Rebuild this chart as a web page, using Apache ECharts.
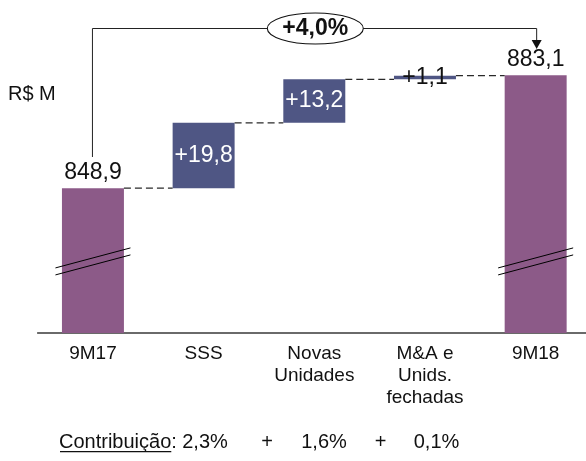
<!DOCTYPE html>
<html>
<head>
<meta charset="utf-8">
<script src="https://cdn.jsdelivr.net/npm/echarts@6/dist/echarts.min.js"></script>
<style>
  html, body { margin: 0; padding: 0; background: #fff; }
  #chart { width: 586px; height: 461px; }
</style>
</head>
<body>
<div id="chart"></div>
<script>
// Receita: ponte 9M17 -> 9M18 (R$ milhões)
const categories = ['9M17', 'SSS', 'Novas\nUnidades', 'M&A e\nUnids.\nfechadas', '9M18'];
const totals = [848.9, null, null, null, 883.1];
const deltas = [null, 19.8, 13.2, 1.1, null];
const contribLabels = ['2,3%', '1,6%', '0,1%'];
const growthLabel = '+4,0%';
const unitLabel = 'R$ M';
const contribTitle = 'Contribuição';

const FONT = '"Liberation Sans", Arial, sans-serif';
const PURPLE = '#8c5a88';
const BLUE = '#4f5684';
const INK = '#111';
const BAR_RATIO = 0.56;
const Y_MIN = 805, Y_MAX = 892;
const BREAK_AT = 826.7; // value level where the axis-break marks sit on the total bars

const fmt = v => v.toFixed(1).replace('.', ',');

// transparent base + visible segment, and the running level after each bar
const baseData = [];
const barData = [];
const levels = [];
let running = 0;
categories.forEach((c, i) => {
  if (totals[i] != null) {
    baseData.push(0);
    running = totals[i];
    barData.push({
      value: totals[i],
      itemStyle: { color: PURPLE },
      label: { position: 'top', distance: 4, color: INK, formatter: fmt(totals[i]) }
    });
  } else {
    baseData.push(running);
    running += deltas[i];
    barData.push({
      value: deltas[i],
      itemStyle: { color: BLUE },
      label: {
        position: 'inside',
        color: deltas[i] < 3 ? INK : '#fff',
        formatter: '+' + fmt(deltas[i])
      }
    });
  }
  levels.push(running);
});

const connectorData = levels.slice(0, -1).map((lv, i) => [i, lv]);
const breakData = categories.map((c, i) => i).filter(i => totals[i] != null).map(i => [i, BREAK_AT]);

const chart = echarts.init(document.getElementById('chart'), null, { renderer: 'canvas' });

const option = {
  animation: false,
  backgroundColor: '#fff',
  textStyle: { fontFamily: FONT },
  grid: {
    left: 37.6, width: 553.4, top: 46, bottom: 128,
    containLabel: false, outerBoundsMode: 'none'
  },
  xAxis: {
    type: 'category',
    data: categories,
    axisLine: { onZero: false, lineStyle: { color: '#3a3a3a', width: 1.5 } },
    axisTick: { show: false },
    splitLine: { show: false },
    axisLabel: {
      interval: 0, margin: 10, color: INK, fontSize: 19, lineHeight: 22,
      fontFamily: FONT, verticalAlign: 'top'
    }
  },
  yAxis: {
    type: 'value', min: Y_MIN, max: Y_MAX, show: false,
    splitLine: { show: false }
  },
  series: [
    {
      name: 'base', type: 'bar', stack: 'ponte', silent: true,
      barWidth: (BAR_RATIO * 100) + '%',
      itemStyle: { color: 'transparent' },
      data: baseData
    },
    {
      name: 'valor', type: 'bar', stack: 'ponte',
      barWidth: (BAR_RATIO * 100) + '%',
      label: { show: true, fontSize: 23, fontFamily: FONT },
      data: barData,
      z: 3
    },
    {
      // dashed connectors between consecutive bar tops
      name: 'conectores', type: 'custom', silent: true, z: 4,
      data: connectorData,
      renderItem: (params, api) => {
        const p = api.coord([api.value(0), api.value(1)]);
        const band = api.size([1, 0])[0];
        const half = band * BAR_RATIO / 2;
        return {
          type: 'line',
          shape: { x1: p[0] + half, y1: p[1], x2: p[0] + band - half, y2: p[1] },
          style: { stroke: '#2a2a2a', lineWidth: 1.3, lineDash: [7, 4] }
        };
      }
    },
    {
      // axis-break marks drawn across the total bars
      name: 'quebra', type: 'custom', silent: true, z: 5,
      data: breakData,
      renderItem: (params, api) => {
        const p = api.coord([api.value(0), api.value(1)]);
        const dx = 37.5, dy = 10, gap = 3.5;
        const mk = off => ({
          type: 'line',
          shape: { x1: p[0] - dx, y1: p[1] + dy + off, x2: p[0] + dx, y2: p[1] - dy + off },
          style: { stroke: '#000', lineWidth: 1 }
        });
        return { type: 'group', children: [mk(-gap), mk(gap)] };
      }
    }
  ]
};

chart.setOption(option);

// annotations positioned from the category axis
const xFirst = chart.convertToPixel({ xAxisIndex: 0 }, categories[0]);
const xLast = chart.convertToPixel({ xAxisIndex: 0 }, categories[categories.length - 1]);
const xMid = chart.convertToPixel({ xAxisIndex: 0 }, categories[2]);
const bracketY = 28.5;

const ctx = document.createElement('canvas').getContext('2d');
ctx.font = '20px ' + FONT;
const titleW = ctx.measureText(contribTitle).width;
const rowY = 442;
const titleX = 59;

const rowText = (text, x, align) => ({
  type: 'text', z: 12, silent: true, x: x, y: rowY,
  style: { text: text, fill: INK, font: '20px ' + FONT, align: align || 'center', verticalAlign: 'middle' }
});

chart.setOption({
  graphic: [
    {
      type: 'polyline', z: 10, silent: true,
      shape: { points: [[xFirst - 0.5, 157], [xFirst - 0.5, bracketY], [xLast + 1, bracketY], [xLast + 1, 41]] },
      style: { stroke: '#222', lineWidth: 1, fill: null }
    },
    {
      type: 'polygon', z: 10, silent: true,
      shape: { points: [[xLast - 4, 40], [xLast + 6, 40], [xLast + 1, 49]] },
      style: { fill: '#111' }
    },
    {
      type: 'ellipse', z: 11, silent: true,
      shape: { cx: xMid + 1, cy: bracketY, rx: 48, ry: 15.5 },
      style: { fill: '#fff', stroke: '#111', lineWidth: 1.1 }
    },
    {
      type: 'text', z: 12, silent: true, x: xMid + 1, y: bracketY,
      style: { text: growthLabel, fill: INK, font: 'bold 23px ' + FONT, align: 'center', verticalAlign: 'middle' }
    },
    {
      type: 'text', z: 12, silent: true, x: 8, y: 94.5,
      style: { text: unitLabel, fill: INK, font: '20px ' + FONT, align: 'left', verticalAlign: 'middle' }
    },
    rowText(contribTitle + ':', titleX, 'left'),
    {
      type: 'rect', z: 12, silent: true,
      shape: { x: titleX + 1, y: 451, width: titleW - 1, height: 1.3 },
      style: { fill: INK }
    },
    rowText(contribLabels[0], 205),
    rowText('+', 267),
    rowText(contribLabels[1], 324),
    rowText('+', 380.5),
    rowText(contribLabels[2], 436.5)
  ]
});
</script>
</body>
</html>
